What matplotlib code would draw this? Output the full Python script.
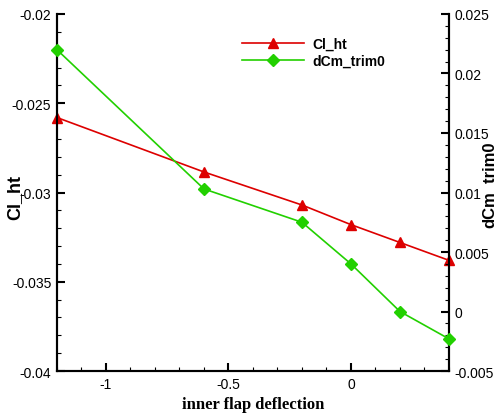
import matplotlib
matplotlib.use("Agg")
import matplotlib.pyplot as plt
from matplotlib.ticker import MultipleLocator

x = [-1.2, -0.6, -0.2, 0.0, 0.2, 0.4]
cl_ht = [-0.0258, -0.02885, -0.0307, -0.0318, -0.0328, -0.0338]
dcm_trim0 = [0.0220, 0.0103, 0.0075, 0.0040, 0.0000, -0.0023]

plt.rcParams['font.family'] = ['Liberation Sans', 'DejaVu Sans']

fig = plt.figure(figsize=(4.95, 4.14), dpi=100)
ax = fig.add_axes([0.115, 0.1014, 0.792, 0.8624])
ax2 = ax.twinx()

red = '#dd0000'
green = '#22d000'

l1, = ax.plot(x, cl_ht, color=red, marker='^', markersize=7, lw=1.2, label='Cl_ht', clip_on=False, zorder=3)
l2, = ax2.plot(x, dcm_trim0, color=green, marker='D', markersize=6.5, lw=1.2, label='dCm_trim0', clip_on=False, zorder=3)

ax.set_xlim(-1.2, 0.4)
ax.set_ylim(-0.04, -0.02)
ax2.set_ylim(-0.005, 0.025)

ax.xaxis.set_minor_locator(MultipleLocator(0.1))
ax.yaxis.set_minor_locator(MultipleLocator(0.001))
ax2.yaxis.set_minor_locator(MultipleLocator(0.001))

ax.set_xticks([-1, -0.5, 0])
ax.set_xticklabels(['-1', '-0.5', '0'])
ax.set_yticks([-0.04, -0.035, -0.03, -0.025, -0.02])
ax.set_yticklabels(['-0.04', '-0.035', '-0.03', '-0.025', '-0.02'])
ax2.set_yticks([-0.005, 0, 0.005, 0.01, 0.015, 0.02, 0.025])
ax2.set_yticklabels(['-0.005', '0', '0.005', '0.01', '0.015', '0.02', '0.025'])

for a in (ax, ax2):
    a.spines['top'].set_visible(False)
    for s in a.spines.values():
        s.set_linewidth(1.5)
    a.tick_params(which='major', direction='in', length=6, width=1.5, labelsize=10, pad=4)
    a.tick_params(which='minor', direction='in', length=3, width=0.8)
ax.tick_params(axis='x', which='both', top=False)

ax.set_xlabel('inner flap deflection', family=['Liberation Serif', 'DejaVu Serif'], fontweight='bold', fontsize=12, labelpad=4)
ax.set_ylabel('Cl_ht', fontweight='bold', fontsize=13)
ax.yaxis.set_label_coords(-0.087, 0.49)
ax2.set_ylabel('dCm_trim0', fontweight='bold', fontsize=12)
ax2.yaxis.set_label_coords(1.082, 0.524)

leg = ax.legend(handles=[l1, l2], loc='upper left', bbox_to_anchor=(0.44, 0.97), frameon=False,
                handlelength=4.5, labelspacing=0.2, handletextpad=0.6,
                prop={'weight': 'bold', 'size': 10})

fig.savefig('out.png', dpi=100)
